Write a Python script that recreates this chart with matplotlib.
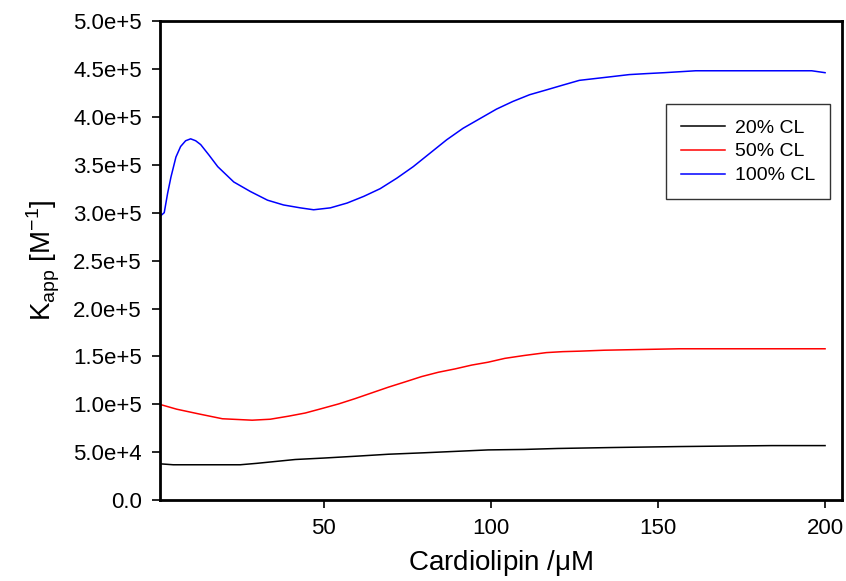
import matplotlib.pyplot as plt
from matplotlib.ticker import FuncFormatter
import numpy as np

plt.rcParams['font.family'] = ['Liberation Sans', 'DejaVu Sans']

# 20% CL
cl20_x = [1, 5, 15, 25, 30, 41.5, 50, 60, 69.4, 80, 99.2, 110, 120, 136.5, 156.4, 170, 184, 200]
cl20_y = [3.8e4, 3.7e4, 3.7e4, 3.7e4, 3.85e4, 4.25e4, 4.4e4, 4.6e4, 4.8e4, 4.95e4, 5.25e4,
          5.3e4, 5.4e4, 5.5e4, 5.6e4, 5.65e4, 5.7e4, 5.7e4]

# 50% CL
cl50_x = [1, 6, 12.7, 19.7, 28.6, 34, 39.5, 44.5, 49.5, 54.5, 59.4, 64.4, 69.4, 74.4, 79.3,
          84.3, 89.3, 94.3, 99.2, 104.2, 110, 116.6, 121.5, 126.5, 134, 141.4, 156.4, 170, 185, 200]
cl50_y = [10.0e4, 9.5e4, 9.0e4, 8.5e4, 8.35e4, 8.45e4, 8.77e4, 9.1e4, 9.57e4, 10.05e4, 10.6e4,
          11.2e4, 11.8e4, 12.35e4, 12.9e4, 13.35e4, 13.7e4, 14.1e4, 14.4e4, 14.8e4, 15.1e4,
          15.4e4, 15.5e4, 15.55e4, 15.65e4, 15.7e4, 15.8e4, 15.8e4, 15.8e4, 15.8e4]

# 100% CL
cl100_x = [1, 2.3, 3.3, 4.3, 5.8, 7.2, 8.7, 10.2, 11.7, 13.2, 15.7, 18.3, 23.1, 28.1, 33.2, 38,
           43, 47, 52, 57, 62, 66.9, 71.9, 76.8, 81.8, 86.8, 91.7, 96.7, 101.7, 106.6, 111.6,
           116.6, 121.5, 126.5, 131.5, 136.5, 141.4, 146.4, 151.9, 161.3, 170, 180, 190, 196, 200]
cl100_y = [2.96e5, 3.0e5, 3.2e5, 3.37e5, 3.58e5, 3.69e5, 3.75e5, 3.77e5, 3.75e5, 3.71e5,
           3.60e5, 3.48e5, 3.32e5, 3.22e5, 3.13e5, 3.08e5, 3.05e5, 3.03e5, 3.05e5, 3.10e5,
           3.17e5, 3.25e5, 3.36e5, 3.48e5, 3.62e5, 3.76e5, 3.88e5, 3.98e5, 4.08e5, 4.16e5,
           4.23e5, 4.28e5, 4.33e5, 4.38e5, 4.40e5, 4.42e5, 4.44e5, 4.45e5, 4.46e5, 4.48e5,
           4.48e5, 4.48e5, 4.48e5, 4.48e5, 4.46e5]

x_ticks = [50, 100, 150, 200]
y_ticks = np.arange(0, 5.01e5, 0.5e5)


def sci_fmt(v, pos):
    if v == 0:
        return '0.0'
    exp = int(np.floor(np.log10(abs(v)) + 1e-9))
    return f'{v / 10**exp:.1f}e+{exp}'


fig = plt.figure(figsize=(8.46, 5.81), dpi=100)
ax = fig.add_axes([0.189, 0.139, 0.806, 0.825])

ax.plot(cl20_x, cl20_y, color='black', lw=1.1, label='20% CL')
ax.plot(cl50_x, cl50_y, color='#ff0000', lw=1.1, label='50% CL')
ax.plot(cl100_x, cl100_y, color='#0000ff', lw=1.1, label='100% CL')

ax.set_xlim(1, 205)
ax.set_ylim(0, 5e5)
ax.set_xticks(x_ticks)
ax.set_yticks(y_ticks)
ax.yaxis.set_major_formatter(FuncFormatter(sci_fmt))
ax.tick_params(direction='out', length=6, width=1.2, labelsize=16, pad=7,
               top=False, right=False)

for sp in ax.spines.values():
    sp.set_linewidth(2)

ax.set_xlabel(r'Cardiolipin /$\mathregular{\mu}$M', fontsize=20, labelpad=6)
ax.set_ylabel(r'K$_\mathregular{app}$ [M$^\mathregular{-1}$]', fontsize=20, labelpad=8)

leg = ax.legend(loc='upper left', bbox_to_anchor=(0.728, 0.846), fontsize=14,
                fancybox=False, edgecolor='#333333', framealpha=1,
                handlelength=2.3, handletextpad=0.5, borderpad=0.75, labelspacing=0.32)
leg.get_frame().set_linewidth(1)

fig.savefig('out.png', dpi=100)
